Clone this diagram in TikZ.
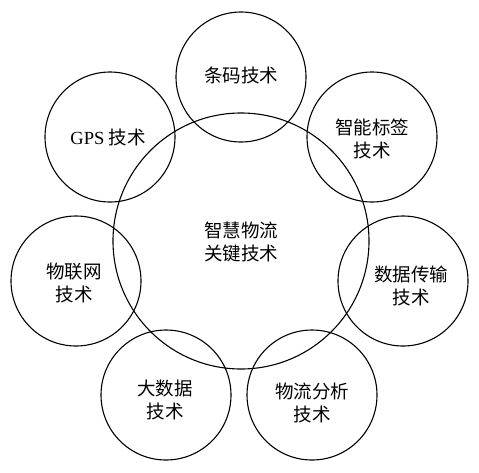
\documentclass[tikz,border=0pt]{standalone}
\usepackage{fontspec}
\setmainfont{Liberation Serif}
\newfontfamily\cjk{Noto Sans CJK SC}
\begin{document}
\begin{tikzpicture}[x=1pt,y=-1pt,
  ring/.style={circle,draw=black,line width=1.1pt,minimum size=#1,inner sep=0pt},
  lbl/.style={align=center,font=\cjk\fontsize{18.5}{23}\selectfont,inner sep=0pt}]
\useasboundingbox (0,0) rectangle (479,472);
\node[ring=256pt] (hub) at (241,241) {};
\node[ring=130pt] (c1) at (241,77) {};
\node[ring=130pt] (c2) at (372,137) {};
\node[ring=130pt] (c3) at (403,281) {};
\node[ring=130pt] (c4) at (312,395) {};
\node[ring=130pt] (c5) at (166,395) {};
\node[ring=130pt] (c6) at (76,281) {};
\node[ring=130pt] (c7) at (110,137) {};
\node[lbl] (t0) at (241,242) {智慧物流\\关键技术};
\node[lbl] (t1) at (241,75) {条码技术};
\node[lbl] (t2) at (372,139) {智能标签\\技术};
\node[lbl] (t3) at (411,286) {数据传输\\技术};
\node[lbl] (t4) at (312,403) {物流分析\\技术};
\node[lbl] (t5) at (165,400) {大数据\\技术};
\node[lbl] (t6) at (74,283) {物联网\\技术};
\node[lbl] (t7) at (108,137) {{\rmfamily GPS} 技术};
\end{tikzpicture}
\end{document}
